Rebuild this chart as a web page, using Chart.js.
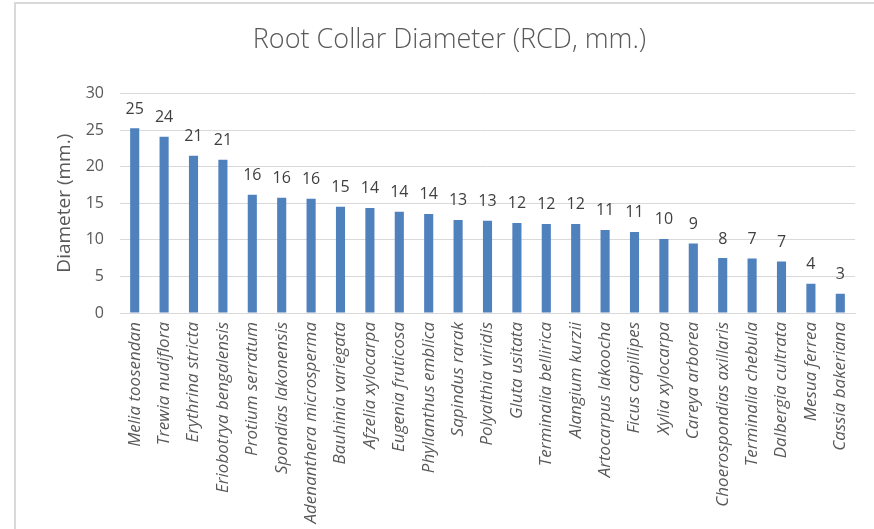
<!DOCTYPE html>
<html lang="en">
<head>
    <meta charset="UTF-8">
    <title>Root Collar Diameter</title>
    <script src="https://cdn.jsdelivr.net/npm/chart.js"></script>
    <style>
        html, body {
            margin: 0;
            padding: 0;
            background: #ffffff;
            overflow: hidden;
        }
        .frame {
            position: absolute;
            left: 14px;
            top: 2px;
            width: 900px;
            height: 600px;
            border: 2px solid #d9d9d9;
        }
        .chart-box {
            position: absolute;
            left: 0;
            top: 0;
            width: 874px;
            height: 529px;
        }
    </style>
</head>
<body>
    <div class="frame"></div>
    <div class="chart-box">
        <canvas id="rcdChart" width="874" height="529"></canvas>
    </div>

    <script>
        const species = [
            "Melia toosendan", "Trewia nudiflora", "Erythrina stricta", "Eriobotrya bengalensis",
            "Protium serratum", "Spondias lakonensis", "Adenanthera microsperma", "Bauhinia variegata",
            "Afzelia xylocarpa", "Eugenia fruticosa", "Phyllanthus emblica", "Sapindus rarak",
            "Polyalthia viridis", "Gluta usitata", "Terminalia bellirica", "Alangium kurzii",
            "Artocarpus lakoocha", "Ficus capillipes", "Xylia xylocarpa", "Careya arborea",
            "Choerospondias axillaris", "Terminalia chebula", "Dalbergia cultrata", "Mesua ferrea",
            "Cassia bakeriana"
        ];
        const rcd = [
            25.25, 24.07, 21.48, 20.93, 16.14, 15.73, 15.60, 14.50, 14.36, 13.82, 13.54, 12.72,
            12.59, 12.31, 12.17, 12.17, 11.35, 11.08, 10.12, 9.48, 7.52, 7.43, 7.02, 4.01, 2.64
        ];
        const yTicks = [0, 5, 10, 15, 20, 25, 30];

        const textGrey = "#595959";
        const fontFamily = "'Open Sans', Lato, sans-serif";

        // value labels above each bar, rounded to whole mm
        const barValues = {
            id: "barValues",
            afterDatasetsDraw(chart) {
                const ctx = chart.ctx;
                const meta = chart.getDatasetMeta(0);
                ctx.save();
                ctx.font = "16px " + fontFamily;
                ctx.fillStyle = "#404040";
                ctx.textAlign = "center";
                ctx.textBaseline = "middle";
                meta.data.forEach((bar, i) => {
                    ctx.fillText(Math.round(rcd[i]).toString(), bar.x, bar.y - 19);
                });
                ctx.restore();
            }
        };

        new Chart(document.getElementById("rcdChart"), {
            type: "bar",
            data: {
                labels: species,
                datasets: [{
                    label: "RCD (mm.)",
                    data: rcd,
                    backgroundColor: "#4f81bd",
                    borderWidth: 0,
                    categoryPercentage: 1.0,
                    barPercentage: 0.31
                }]
            },
            options: {
                responsive: false,
                animation: false,
                layout: { padding: { left: 44, right: 19, top: 0, bottom: 0 } },
                plugins: {
                    legend: { display: false },
                    tooltip: { enabled: false },
                    title: {
                        display: true,
                        text: "Root Collar Diameter (RCD, mm.)",
                        color: textGrey,
                        font: { family: fontFamily, size: 27, weight: "300" },
                        padding: { top: 24, bottom: 37 }
                    }
                },
                scales: {
                    x: {
                        grid: { display: false, drawTicks: false },
                        border: { color: "#d9d9d9", width: 1 },
                        ticks: {
                            color: textGrey,
                            font: { family: fontFamily, size: 17, style: "italic" },
                            minRotation: 90,
                            maxRotation: 90,
                            autoSkip: false,
                            padding: 9
                        },
                        afterFit(scale) { scale.height = 216; }
                    },
                    y: {
                        min: 0,
                        max: 30,
                        afterBuildTicks(scale) {
                            scale.ticks = yTicks.map(v => ({ value: v }));
                        },
                        grid: { color: "#d9d9d9", drawTicks: false },
                        border: { display: false },
                        ticks: {
                            color: textGrey,
                            font: { family: fontFamily, size: 16 },
                            padding: 16
                        },
                        title: {
                            display: true,
                            text: "Diameter (mm.)",
                            color: textGrey,
                            font: { family: fontFamily, size: 19 },
                            padding: { top: 9, bottom: 4 }
                        },
                        afterFit(scale) { scale.width = 76; }
                    }
                }
            },
            plugins: [barValues]
        });
    </script>
</body>
</html>
